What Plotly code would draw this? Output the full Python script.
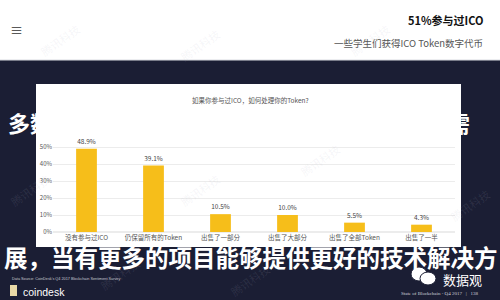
import plotly.graph_objects as go

categories = ["没有参与过ICO", "仍保留所有的Token", "出售了一部分", "出售了大部分", "出售了全部Token", "出售了一半"]
values = [48.9, 39.1, 10.5, 10.0, 5.5, 4.3]
tick_vals = [0, 10, 20, 30, 40, 50]
tick_text = ["0%", "10%", "20%", "30%", "40%", "50%"]

W, H = 500, 300
L, R = 53, 455      # plot area x in px
B, T = 232, 138     # plot area y in px (bottom, top)
YMAX = (B - T) / 17.0 * 10

def px(x):
    return (x - L) / (R - L)

def py(y):
    return (B - y) / (B - T)

CJK = "Noto Sans CJK SC"
NAVY = "#1b1e34"

fig = go.Figure()
fig.add_trace(go.Bar(
    x=categories, y=values, width=0.31,
    marker=dict(color="#F6BE1A", line=dict(width=0)),
    texttemplate="%{y:.1f}%", textposition="outside",
    textfont=dict(family=CJK, size=6.5, color="#444"),
    cliponaxis=False, hoverinfo="skip",
))

def rect(x0, x1, y0, y1, color, layer="below"):
    return dict(type="rect", xref="paper", yref="paper", x0=px(x0), x1=px(x1), y0=py(y0), y1=py(y1),
                fillcolor=color, line=dict(width=0), layer=layer)

def circle(x0, x1, y0, y1, color):
    return dict(type="circle", xref="paper", yref="paper", x0=px(x0), x1=px(x1), y0=py(y0), y1=py(y1),
                fillcolor=color, line=dict(color=NAVY, width=1), layer="above")

shapes = [
    rect(0, W, 0, 60, "white"),
    dict(type="line", xref="paper", yref="paper", x0=px(0), x1=px(W), y0=py(60), y1=py(60),
         line=dict(color="#d9dbe0", width=1), layer="below"),
    rect(36, 461, 84, 247, "white"),
    rect(10, 17, 285, 296, "#e9d9a6", layer="above"),
    # wechat-like icon
    circle(411, 427, 267, 281, "white"),
    circle(420, 436, 272, 285, "white"),
]

ann = []
def text(x, y, s, size, color, xanchor="left", family=CJK, angle=0, bold=False):
    if bold:
        s = "<b>" + s + "</b>"
    ann.append(dict(x=px(x), y=py(y), xref="paper", yref="paper", text=s, showarrow=False,
                    xanchor=xanchor, yanchor="middle", textangle=angle,
                    font=dict(family=family, size=size, color=color)))

# header
text(8, 29, "≡", 13, "#333")
text(485, 20, "51%参与过ICO", 11, "#111", xanchor="right", bold=True)
text(485, 43, "一些学生们获得ICO Token数字代币", 9.5, "#555", xanchor="right")

# card title
text(250, 100, "如果你参与过ICO，如何处理你的Token?", 6.5, "#555", xanchor="center")

# watermarks
for (wx, wy) in [(60, 40), (200, 45), (370, 40), (200, 190), (320, 160), (30, 190), (120, 274), (250, 280), (470, 205)]:
    text(wx, wy, "腾讯科技", 11, "rgba(180,180,200,0.12)", xanchor="center", angle=-35)

# brush-like overlay lines
text(6, 122, "多数参与者看好区块链技术的发展前景，虽然需", 22, "white", bold=True)
text(251, 257, "展，当有更多的项目能够提供更好的技术解决方", 23.5, "white", xanchor="center", bold=True)

# footer
text(10, 279, "Data Source: CoinDesk's Q4 2017 Blockchain Sentiment Survey", 3.8, "#c8c8d0", family="Liberation Sans")
text(21, 292, "coindesk", 10.5, "white", family="Liberation Sans")
text(441, 279, "数据观", 13, "white")
text(480, 293, "State of Blockchain - Q4 2017   |   138", 5, "#d0d0d8", xanchor="right", family="Liberation Serif")

fig.update_layout(
    width=W, height=H,
    margin=dict(l=L, r=W - R, t=T, b=H - B),
    paper_bgcolor=NAVY, plot_bgcolor="rgba(0,0,0,0)",
    showlegend=False, bargap=0.2,
    shapes=shapes, annotations=ann,
    xaxis=dict(showgrid=False, showline=False, ticks="", tickfont=dict(family=CJK, size=6.5, color="#555"),
               fixedrange=True),
    yaxis=dict(range=[0, YMAX], tickvals=tick_vals, ticktext=tick_text, showgrid=True,
               gridcolor="#ececec", gridwidth=1, zeroline=True, zerolinecolor="#ececec",
               tickfont=dict(family=CJK, size=6, color="#555"), ticks="", showline=False,
               fixedrange=True),
)

fig.write_html("out.html")
